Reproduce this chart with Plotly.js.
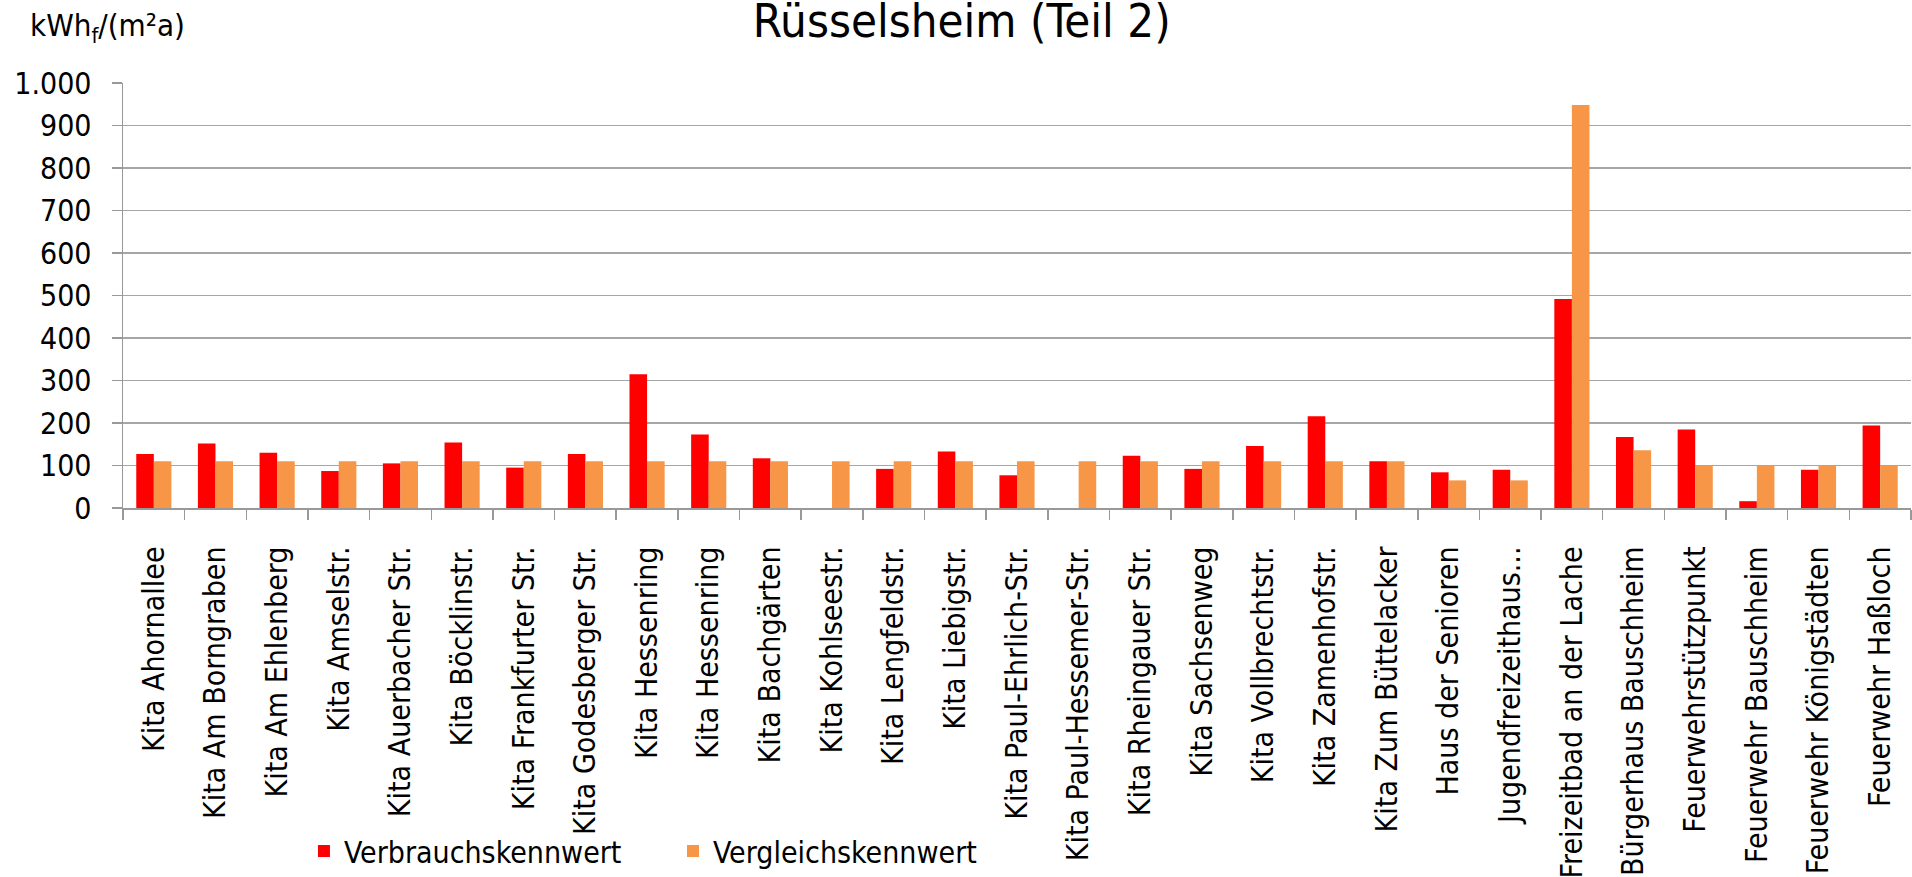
<!DOCTYPE html>
<html>
<head>
<meta charset="utf-8">
<script src="https://cdn.plot.ly/plotly-3.0.1.min.js"></script>
<style>
html,body{margin:0;padding:0;background:#fff;}
#chart{width:1912px;height:877px;}
</style>
</head>
<body>
<div id="chart"></div>
<script>
const categories = [
  "Kita Ahornallee","Kita Am Borngraben","Kita Am Ehlenberg","Kita Amselstr.",
  "Kita Auerbacher Str.","Kita Böcklinstr.","Kita Frankfurter Str.","Kita Godesberger Str.",
  "Kita Hessenring","Kita Hessenring","Kita Bachgärten","Kita Kohlseestr.",
  "Kita Lengfeldstr.","Kita Liebigstr.","Kita Paul-Ehrlich-Str.","Kita Paul-Hessemer-Str.",
  "Kita Rheingauer Str.","Kita Sachsenweg","Kita Vollbrechtstr.","Kita Zamenhofstr.",
  "Kita Zum Büttelacker","Haus der Senioren","Jugendfreizeithaus...","Freizeitbad an der Lache",
  "Bürgerhaus Bauschheim","Feuerwehrstützpunkt","Feuerwehr Bauschheim","Feuerwehr Königstädten",
  "Feuerwehr Haßloch"
];
const verbrauchskennwert = [127,152,130,87,105,154,95,127,315,173,117,null,92,133,77,null,123,92,146,216,110,84,90,492,167,185,16,90,194];
const vergleichskennwert = [110,110,110,110,110,110,110,110,110,110,110,110,110,110,110,110,110,110,110,110,110,65,65,948,136,100,100,100,100];
const seriesNames = ["Verbrauchskennwert","Vergleichskennwert"];
const yTicks = [0,100,200,300,400,500,600,700,800,900,1000];

const FONT = "'DejaVu Sans Condensed', 'DejaVu Sans', sans-serif";
const idx = categories.map((_, i) => i);

const data = [
  {type:'bar', name:seriesNames[0], x:idx, y:verbrauchskennwert, marker:{color:'#FF0000'}, legend:'legend'},
  {type:'bar', name:seriesNames[1], x:idx, y:vergleichskennwert, marker:{color:'#F79646'}, legend:'legend2'}
];

const legendBase = {orientation:'h', y:-0.8045, xanchor:'left', yanchor:'middle',
  font:{family:FONT, size:30, color:'#000'}, bgcolor:'rgba(0,0,0,0)', borderwidth:0};

const layout = {
  width:1912, height:877,
  margin:{l:123, r:1, t:83, b:368, pad:0},
  paper_bgcolor:'#fff', plot_bgcolor:'#fff',
  font:{family:FONT, size:30, color:'#000'},
  separators:',.',
  barmode:'group', bargap:0.43, bargroupgap:0,
  showlegend:true,
  legend:Object.assign({}, legendBase, {x:0.1012}),
  legend2:Object.assign({}, legendBase, {x:0.3076}),
  title:{text:'Rüsselsheim (Teil 2)', font:{family:FONT, size:47, color:'#000'},
         x:0.503, xanchor:'center', xref:'container', y:0.977, yanchor:'middle', yref:'container'},
  xaxis:{
    type:'linear', range:[-0.5, categories.length-0.5],
    tickmode:'array', tickvals:idx, ticktext:categories,
    tickangle:-90, ticks:'', showgrid:false, zeroline:false,
    showline:true, linecolor:'#999', linewidth:1.5,
    tickfont:{family:FONT, size:30, color:'#000'},
    ticklabelstandoff:25,
    minor:{tickmode:'linear', tick0:0.5, dtick:1, ticks:'outside', ticklen:10, tickcolor:'#999', tickwidth:1.5, showgrid:false},
    fixedrange:true
  },
  yaxis:{
    range:[0,1000], tickmode:'array', tickvals:yTicks, separatethousands:true,
    ticks:'outside', ticklen:10, tickcolor:'#999', tickwidth:1.5,
    showgrid:true, gridcolor:'#a6a6a6', gridwidth:1.5,
    zeroline:false, showline:true, linecolor:'#999', linewidth:1.5,
    tickfont:{family:FONT, size:30, color:'#000'},
    ticklabelstandoff:14,
    fixedrange:true
  },
  annotations:[
    {text:'kWh<sub>f</sub>/(m²a)', xref:'paper', yref:'paper', x:-0.053, y:1.13,
     xanchor:'left', yanchor:'middle', showarrow:false, font:{family:FONT, size:31, color:'#000'}}
  ]
};

Plotly.newPlot('chart', data, layout, {displayModeBar:false, staticPlot:true});
</script>
</body>
</html>
